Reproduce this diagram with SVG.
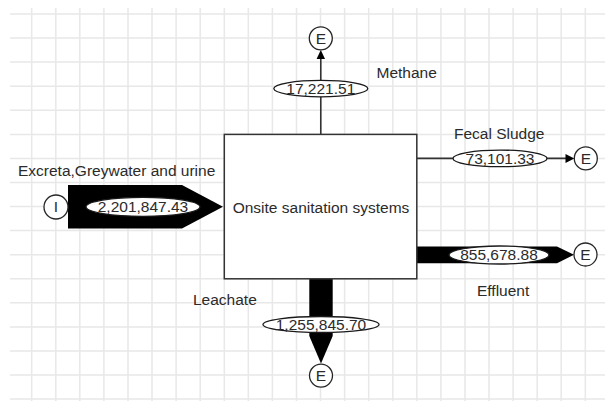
<svg xmlns="http://www.w3.org/2000/svg" width="605" height="401" viewBox="0 0 605 401">
  <style>
    .grid { stroke: #e8e8e8; stroke-width: 1.5; fill: none; }
    .txt { font-family: "Liberation Sans", Arial, sans-serif; font-size: 15.5px; fill: #2b2b2b; }
    .mid { text-anchor: middle; }
    .node { fill: #ffffff; stroke: #333333; stroke-width: 1.5; }
    .term { fill: #ffffff; stroke: #262626; stroke-width: 1.3; }
    .val { fill: #ffffff; stroke: #1a1a1a; stroke-width: 1.3; }
    .line { stroke: #333333; stroke-width: 1.6; fill: none; }
    .flow { fill: #000000; stroke: none; }
  </style>

  <rect x="0" y="0" width="605" height="401" fill="#ffffff"/>

  <!-- background grid -->
  <path class="grid" d="
    M31.7 8V401 M55.8 8V401 M79.8 8V401 M103.9 8V401 M128 8V401 M152 8V401
    M176.1 8V401 M200.2 8V401 M224.3 8V401 M248.3 8V401 M272.4 8V401 M296.5 8V401
    M320.5 8V401 M344.6 8V401 M368.7 8V401 M392.8 8V401 M416.8 8V401 M440.9 8V401
    M465 8V401 M489 8V401 M513.1 8V401 M537.2 8V401 M561.2 8V401 M585.3 8V401
    M10 14H605 M10 38.1H605 M10 62.1H605 M10 86.2H605 M10 110.3H605 M10 134.4H605
    M10 158.4H605 M10 182.5H605 M10 206.6H605 M10 230.6H605 M10 254.7H605 M10 278.8H605
    M10 302.8H605 M10 326.9H605 M10 351H605 M10 375.1H605 M10 399.1H605"/>

  <!-- flows -->
  <g id="connectors">
    <g id="flow-input">
      <polygon class="flow" points="68,185 182,185 223,206.8 182,228.4 68,228.4"/>
      <ellipse class="val" cx="143" cy="206.8" rx="57" ry="9.5"/>
      <text class="txt mid" x="143" y="212.2">2,201,847.43</text>
    </g>
    <g id="flow-methane">
      <line class="line" x1="320.8" y1="134.4" x2="320.8" y2="58"/>
      <polygon fill="#000" points="320.8,50 325,59 316.6,59"/>
      <ellipse class="val" cx="320.8" cy="88.6" rx="47" ry="8.2"/>
      <text class="txt mid" x="320.8" y="94">17,221.51</text>
    </g>
    <g id="flow-sludge">
      <line class="line" x1="416.8" y1="158.4" x2="567" y2="158.4"/>
      <polygon fill="#000" points="574.3,158.4 565.5,153.9 565.5,162.9"/>
      <ellipse class="val" cx="500" cy="158.4" rx="47" ry="8.3"/>
      <text class="txt mid" x="500" y="163.8">73,101.33</text>
    </g>
    <g id="flow-effluent">
      <polygon class="flow" points="416.8,246.6 557,246.6 574,254.8 557,263.2 416.8,263.2"/>
      <ellipse class="val" cx="499" cy="255" rx="50" ry="9"/>
      <text class="txt mid" x="499" y="260.4">855,678.88</text>
    </g>
    <g id="flow-leachate">
      <polygon class="flow" points="309.3,278.8 332.7,278.8 332.7,336 321,363.5 309.3,336"/>
      <ellipse class="val" cx="321" cy="324.5" rx="58" ry="8"/>
      <text class="txt mid" x="321" y="329.9">1,255,845.70</text>
    </g>
  </g>

  <!-- flow captions -->
  <text class="txt" x="18" y="176">Excreta,Greywater and urine</text>
  <text class="txt" x="376.5" y="78.3">Methane</text>
  <text class="txt" x="454" y="139.3">Fecal Sludge</text>
  <text class="txt" x="477" y="296">Effluent</text>
  <text class="txt" x="193" y="305">Leachate</text>

  <!-- process -->
  <g id="onsite-systems">
    <rect class="node" x="224.3" y="134.4" width="192.5" height="144.4"/>
    <text class="txt mid" x="321" y="212.5">Onsite sanitation systems</text>
  </g>

  <!-- source and sinks -->
  <g id="source-input">
    <circle class="term" cx="56" cy="207" r="12"/>
    <text class="txt mid" x="56" y="212.4">I</text>
  </g>
  <g id="sink-methane">
    <circle class="term" cx="320.8" cy="38.3" r="11.5"/>
    <text class="txt mid" x="320.8" y="43.7">E</text>
  </g>
  <g id="sink-sludge">
    <circle class="term" cx="585.8" cy="158.4" r="11.5"/>
    <text class="txt mid" x="585.8" y="163.8">E</text>
  </g>
  <g id="sink-effluent">
    <circle class="term" cx="585.5" cy="254.5" r="11.5"/>
    <text class="txt mid" x="585.5" y="259.9">E</text>
  </g>
  <g id="sink-leachate">
    <circle class="term" cx="321" cy="375.6" r="11.5"/>
    <text class="txt mid" x="321" y="381">E</text>
  </g>
</svg>
